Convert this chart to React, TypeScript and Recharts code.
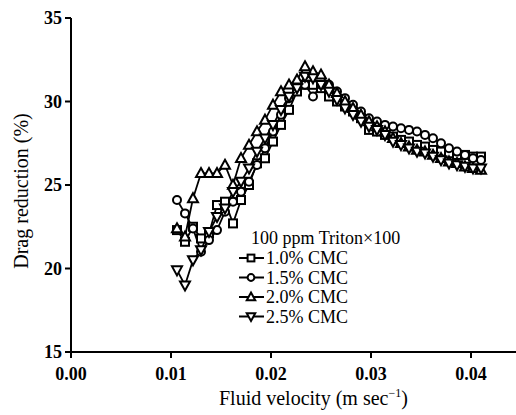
import { LineChart, Line, XAxis, YAxis, Legend, Label } from "recharts";

// fluid velocity (m/s), shared by all four series
const velocity = [
  0.0106, 0.0114, 0.0122, 0.013, 0.0138, 0.0146, 0.0154, 0.0162, 0.017, 0.0178,
  0.0186, 0.0194, 0.0202, 0.021, 0.0218, 0.0226, 0.0234, 0.0242, 0.025, 0.0258,
  0.0266, 0.0274, 0.0282, 0.029, 0.0298, 0.0306, 0.0314, 0.0322, 0.033, 0.0338,
  0.0346, 0.0354, 0.0362, 0.037, 0.0378, 0.0386, 0.0394, 0.0402, 0.041,
];

// drag reduction (%)
const cmc10 = [
  22.3, 21.6, 22.5, 21.8, 22.1, 23.8, 24.0, 22.7, 24.1, 25.0,
  26.3, 26.6, 27.6, 28.6, 29.5, 30.6, 31.0, 31.0, 30.8, 30.3,
  30.0, 29.7, 29.4, 29.0, 28.3, 28.2, 28.0, 27.9, 27.7, 27.6,
  27.4, 27.3, 27.1, 27.0, 26.9, 26.8, 26.8, 26.7, 26.7,
];
const cmc15 = [
  24.1, 23.3, 22.4, 21.0, 21.7, 22.3, 23.4, 24.0, 24.6, 25.2,
  26.2, 27.2, 28.2, 29.2, 30.2, 30.9, 31.0, 30.3, 31.0, 31.0,
  30.6, 30.2, 29.8, 29.4, 29.0, 28.8, 28.6, 28.5, 28.4, 28.3,
  28.2, 28.0, 27.8, 27.5, 27.2, 27.0, 26.8, 26.6, 26.5,
];
const cmc20 = [
  22.4, 21.9, 24.2, 25.7, 25.7, 25.7, 26.2, 25.0, 26.6, 27.4,
  28.2, 28.9, 29.8, 30.6, 31.0, 31.3, 32.1, 31.8, 31.6, 31.0,
  30.5, 30.0, 29.6, 29.2, 28.8, 28.5, 28.2, 27.8, 27.5, 27.3,
  27.1, 27.0, 26.8, 26.6, 26.4, 26.3, 26.1, 26.0, 25.9,
];
const cmc25 = [
  19.9, 19.0, 20.5, 21.1, 22.2, 23.1, 23.6, 24.6, 25.2, 26.0,
  27.0, 27.8, 28.6, 29.5, 30.3, 30.8, 31.5, 31.4, 31.0, 30.6,
  30.1, 29.6, 29.2, 28.8, 28.5, 28.3, 28.0, 27.6, 27.4, 27.2,
  27.0, 26.9, 26.7, 26.5, 26.3, 26.2, 26.1, 26.0, 26.0,
];

const xTicks = [0, 0.01, 0.02, 0.03, 0.04];
const yTicks = [15, 20, 25, 30, 35];

const legendTitle = "100 ppm Triton×100";

const series = [
  { key: "cmc10", name: "1.0% CMC", values: cmc10, marker: "square" },
  { key: "cmc15", name: "1.5% CMC", values: cmc15, marker: "circle" },
  { key: "cmc20", name: "2.0% CMC", values: cmc20, marker: "up" },
  { key: "cmc25", name: "2.5% CMC", values: cmc25, marker: "down" },
];

const data = velocity.map((v, i) => {
  const row: Record<string, number> = { v };
  series.forEach((s) => (row[s.key] = s.values[i]));
  return row;
});

const FONT = "'Liberation Serif', 'Times New Roman', serif";

function Marker({ kind, cx, cy, s = 1 }: { kind: string; cx: number; cy: number; s?: number }) {
  const common = { fill: "#fff", stroke: "#000", strokeWidth: 2 };
  if (kind === "square")
    return <rect x={cx - 4 * s} y={cy - 4 * s} width={8 * s} height={8 * s} {...common} />;
  if (kind === "circle") return <circle cx={cx} cy={cy} r={4 * s} {...common} />;
  if (kind === "up")
    return (
      <polygon
        points={`${cx},${cy - 5.2 * s} ${cx + 5 * s},${cy + 3.8 * s} ${cx - 5 * s},${cy + 3.8 * s}`}
        {...common}
      />
    );
  return (
    <polygon
      points={`${cx},${cy + 5.2 * s} ${cx + 5 * s},${cy - 3.8 * s} ${cx - 5 * s},${cy - 3.8 * s}`}
      {...common}
    />
  );
}

function LegendBox() {
  return (
    <svg width={200} height={104} style={{ display: "block", overflow: "visible" }}>
      <text x={15} y={18} fontFamily={FONT} fontSize={18} fill="#000">
        {legendTitle}
      </text>
      {series.map((s, i) => {
        const cy = 32 + i * 19.5;
        return (
          <g key={s.key}>
            <line x1={3} x2={28} y1={cy} y2={cy} stroke="#000" strokeWidth={2} />
            <Marker kind={s.marker} cx={15} cy={cy} s={0.85} />
            <text x={30} y={cy + 6} fontFamily={FONT} fontSize={18} fill="#000">
              {s.name}
            </text>
          </g>
        );
      })}
    </svg>
  );
}

export default function App() {
  const tickStyle = { fill: "#000", fontSize: 18, fontWeight: "bold", fontFamily: FONT };
  return (
    <div style={{ position: "absolute", left: 0, top: 0 }}>
      <LineChart width={516} height={415} data={data} margin={{ top: 18, right: 0, bottom: 10, left: 0 }}>
        <XAxis
          type="number"
          dataKey="v"
          domain={[0, 0.0445]}
          allowDataOverflow
          ticks={xTicks}
          tickFormatter={(t: number) => t.toFixed(2)}
          tick={tickStyle}
          tickSize={6}
          tickMargin={9}
          height={53}
          axisLine={{ stroke: "#000", strokeWidth: 2 }}
          tickLine={{ stroke: "#000", strokeWidth: 2 }}
        >
          <Label
            content={() => (
              <text x={219} y={405} fontFamily={FONT} fontSize={20} fill="#000">
                Fluid velocity (m sec
                <tspan dy={-8} fontSize={12}>
                  −1
                </tspan>
                <tspan dy={8}>)</tspan>
              </text>
            )}
          />
        </XAxis>
        <YAxis
          type="number"
          domain={[15, 35]}
          allowDataOverflow
          ticks={yTicks}
          tick={tickStyle}
          tickSize={6}
          tickMargin={3}
          width={71}
          axisLine={{ stroke: "#000", strokeWidth: 2 }}
          tickLine={{ stroke: "#000", strokeWidth: 2 }}
        >
          <Label
            content={() => (
              <text
                x={28}
                y={191}
                transform="rotate(-90, 28, 191)"
                textAnchor="middle"
                fontFamily={FONT}
                fontSize={20}
                fill="#000"
              >
                Drag reduction (%)
              </text>
            )}
          />
        </YAxis>
        <Legend
          layout="vertical"
          align="center"
          verticalAlign="middle"
          wrapperStyle={{ left: 236, top: 226, width: 200 }}
          content={() => <LegendBox />}
        />
        {series.map((s) => (
          <Line
            key={s.key}
            dataKey={s.key}
            name={s.name}
            stroke="#000"
            strokeWidth={1.8}
            isAnimationActive={false}
            dot={(p: any) => <Marker key={`${s.key}-${p.index}`} kind={s.marker} cx={p.cx} cy={p.cy} />}
            activeDot={false}
          />
        ))}
      </LineChart>
    </div>
  );
}
